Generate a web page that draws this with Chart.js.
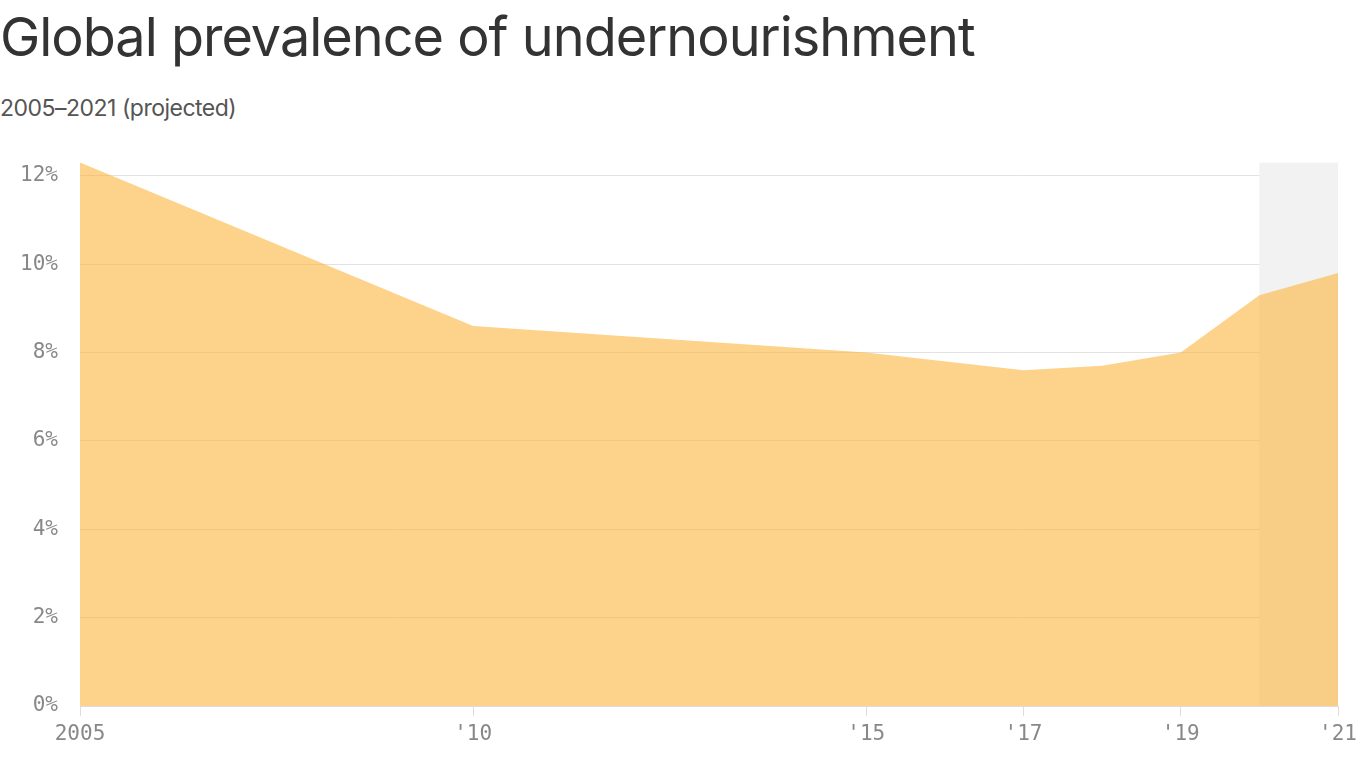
<!DOCTYPE html>
<html>
<head>
<meta charset="utf-8">
<script src="https://cdn.jsdelivr.net/npm/chart.js@4"></script>
<style>
  body { margin: 0; background: #fff; font-family: Inter, "Noto Sans", sans-serif; color: #333; }
  h1 { position: absolute; left: 0; top: 4px; margin: 0; font-weight: 400; font-size: 54px; letter-spacing: -1px; color: #333; }
  .sub { position: absolute; left: 0; top: 94px; font-size: 23px; letter-spacing: -0.5px; color: #555; }
  #wrap { position: absolute; left: 0; top: 128px; width: 1366px; height: 640px; }
</style>
</head>
<body>
<h1>Global prevalence of undernourishment</h1>
<div class="sub">2005–2021 (projected)</div>
<div id="wrap"><canvas id="chart"></canvas></div>
<script>
const years = [2005, 2010, 2015, 2017, 2018, 2019, 2020, 2021];
const prevalence = [12.3, 8.6, 8.0, 7.6, 7.7, 8.0, 9.3, 9.8];
const tickYears = [2005, 2010, 2015, 2017, 2019, 2021];
const tickLabels = ['2005', "'10", "'15", "'17", "'19", "'21"];
const projectedFrom = 2020;

const band = {
  id: 'band',
  beforeDatasetsDraw(chart) {
    const { ctx, chartArea, scales } = chart;
    const x1 = scales.x.getPixelForValue(projectedFrom);
    const x2 = scales.x.getPixelForValue(2021);
    ctx.save();
    ctx.fillStyle = '#f2f2f2';
    ctx.fillRect(x1, chartArea.top, x2 - x1, chartArea.bottom - chartArea.top);
    ctx.restore();
  }
};

new Chart(document.getElementById('chart'), {
  type: 'line',
  data: {
    datasets: [{
      data: years.map((y, i) => ({ x: y, y: prevalence[i] })),
      fill: 'origin',
      backgroundColor: 'rgba(252,180,60,0.6)',
      borderWidth: 0,
      pointRadius: 0,
      tension: 0
    }]
  },
  options: {
    responsive: true,
    maintainAspectRatio: false,
    animation: false,
    layout: { padding: { top: 12, right: 28 } },
    plugins: { legend: { display: false }, tooltip: { enabled: false } },
    scales: {
      x: {
        type: 'linear', min: 2005, max: 2021,
        afterBuildTicks: s => { s.ticks = tickYears.map(v => ({ value: v })); },
        afterFit: s => { s.height = 62; },
        ticks: {
          callback: v => tickLabels[tickYears.indexOf(v)],
          font: { family: 'DejaVu Sans Mono', size: 21 }, color: '#888', padding: 6,
          maxRotation: 0, autoSkip: false
        },
        grid: { display: true, drawOnChartArea: false, drawTicks: true, tickLength: 10, color: '#ddd' },
        border: { color: '#ddd' }
      },
      y: {
        min: 0, max: 12.3,
        afterBuildTicks: s => { s.ticks = [0, 2, 4, 6, 8, 10, 12].map(v => ({ value: v })); },
        afterFit: s => { s.width = 80; },
        ticks: {
          callback: v => v + '%',
          font: { family: 'DejaVu Sans Mono', size: 21 }, color: '#888', padding: 22
        },
        grid: { color: '#e2e2e2', drawTicks: false },
        border: { display: false }
      }
    }
  },
  plugins: [band]
});
</script>
</body>
</html>
